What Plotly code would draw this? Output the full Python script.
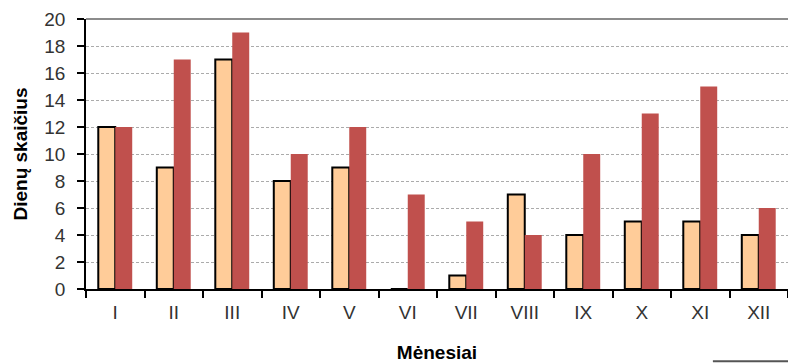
import plotly.graph_objects as go

# Months (Roman numerals) and number of days per month for the two series
months = ["I", "II", "III", "IV", "V", "VI", "VII", "VIII", "IX", "X", "XI", "XII"]
days_a = [12, 9, 17, 8, 9, 0, 1, 7, 4, 5, 5, 4]
days_b = [12, 17, 19, 10, 12, 7, 5, 4, 10, 13, 15, 6]
y_ticks = [0, 2, 4, 6, 8, 10, 12, 14, 16, 18, 20]

FONT = "Liberation Sans, Arial, sans-serif"

fig = go.Figure()
fig.add_trace(go.Bar(
    x=months, y=days_a, name="A",
    marker=dict(color="#FFCC99", line=dict(color="#000000", width=2)),
))
fig.add_trace(go.Bar(
    x=months, y=days_b, name="B",
    marker=dict(color="#C0504D", line=dict(width=0)),
))

fig.update_layout(
    width=788, height=363,
    margin=dict(l=86, r=0, t=19, b=74),
    paper_bgcolor="white", plot_bgcolor="white",
    barmode="group", bargap=0.42, bargroupgap=0,
    showlegend=False,
    font=dict(family=FONT, size=19, color="#222222"),
    xaxis=dict(
        type="category",
        showline=True, linecolor="#000000", linewidth=1.5,
        ticks="outside", tickson="boundaries", ticklen=7, tickcolor="#000000", tickwidth=1.5,
        tickfont=dict(size=19, color="#333333"),
        ticklabelstandoff=5,
        title=dict(text="<b>Mėnesiai</b>", font=dict(size=19, color="#000000"), standoff=24),
        showgrid=False,
    ),
    yaxis=dict(
        range=[0, 20], tickvals=y_ticks,
        showline=True, linecolor="#000000", linewidth=1.5,
        ticks="outside", ticklen=7, tickcolor="#000000", tickwidth=1.5,
        tickfont=dict(size=19, color="#333333"),
        ticklabelstandoff=8,
        showgrid=True, gridcolor="#ABABAB", gridwidth=1, griddash="3px,2px",
        zeroline=False,
        title=dict(text="<b>Dienų skaičius</b>", font=dict(size=19, color="#000000"), standoff=12),
    ),
    shapes=[
        # gray frame line along the top of the plot area
        dict(type="line", xref="paper", yref="paper", x0=0, x1=1, y0=1, y1=1,
             line=dict(color="#8C8C8C", width=2)),
        # top edge of the legend box below the axis
        dict(type="line", xref="paper", yref="paper", x0=0.893, x1=1.0, y0=-0.268, y1=-0.268,
             line=dict(color="#555555", width=2)),
    ],
)

fig.write_html("out.html")
